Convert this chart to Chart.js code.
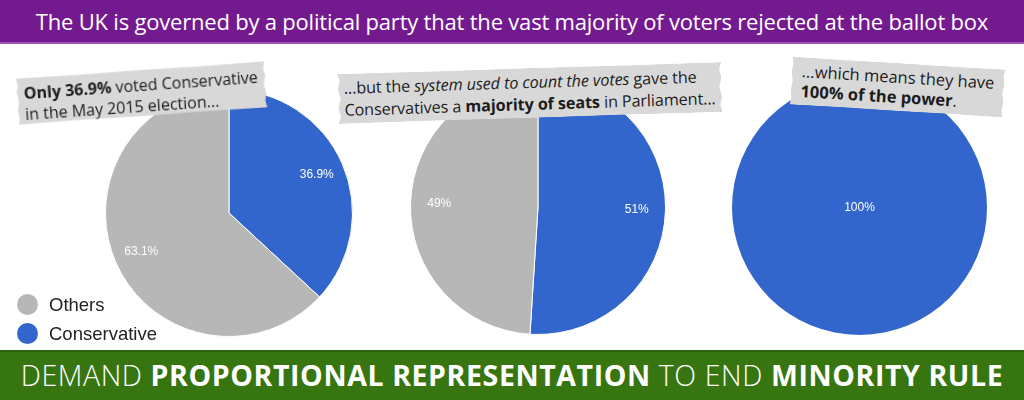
<!DOCTYPE html>
<html><head><meta charset="utf-8">
<script src="https://cdn.jsdelivr.net/npm/chart.js@4"></script>
<style>
html,body{margin:0;padding:0;width:1024px;height:400px;overflow:hidden;background:#fff;font-family:"Open Sans",sans-serif;}
#head{position:absolute;left:0;top:0;width:1024px;height:44px;background:#741a8f;border-bottom:2px solid #9a52b0;box-sizing:border-box;color:#fff;font-size:22px;line-height:42px;text-align:center;letter-spacing:-0.2px;}
#foot{position:absolute;left:0;top:350px;width:1024px;height:50px;background:#377510;border-top:2px solid #2d640b;box-sizing:border-box;color:#fff;font-size:28.5px;line-height:46px;text-align:center;letter-spacing:0.6px;}
#foot .l{font-weight:300}
#foot b{font-weight:700}
.pie{position:absolute;}
.call{position:absolute;background:#d8d8d8;color:#1c1c1c;font-size:16px;line-height:21px;padding:3px 7px;box-sizing:border-box;white-space:nowrap;z-index:5;
clip-path:polygon(0% 0%,25% 1%,50% 0%,75% 1%,100% 0%,99.4% 15%,100% 30%,99.3% 50%,100% 70%,99.4% 85%,100% 100%,75% 99%,50% 100%,25% 99%,0% 100%,0.6% 85%,0% 70%,0.7% 50%,0% 30%,0.6% 15%);}
#legend{position:absolute;left:10px;top:290px;font-family:"Liberation Sans",Arial,sans-serif;font-size:18.5px;color:#222;}
#legend div{height:29px;display:flex;align-items:center;}
#legend span.dot{display:inline-block;width:21px;height:21px;border-radius:50%;margin-left:7px;margin-right:11px;}
</style></head>
<body>
<div id="head">The UK is governed by a political party that the vast majority of voters rejected at the ballot box</div>
<div class="pie" style="left:105px;top:89px;width:248px;height:248px"><canvas id="c1"></canvas></div>
<div class="pie" style="left:410px;top:79px;width:256px;height:256px"><canvas id="c2"></canvas></div>
<div class="pie" style="left:732px;top:80px;width:255px;height:255px"><canvas id="c3"></canvas></div>
<div class="call" style="left:17px;top:70px;width:249px;height:46px;transform:rotate(-4deg);padding-top:5px"><b>Only 36.9%</b> voted Conservative<br>in the May 2015 election...</div>
<div class="call" style="left:338px;top:68px;width:384px;height:50px;transform:rotate(-1.8deg);font-size:16.2px;line-height:22px;padding-top:3px;padding-left:6px;letter-spacing:-0.1px"><span>...but the <i>system used to count the votes</i> gave the</span><br>Conservatives a <b>majority of seats</b> in Parliament...</div>
<div class="call" style="left:791px;top:63px;width:213px;height:48px;transform:rotate(3.5deg);font-size:16.5px;line-height:20px;padding-top:4px;padding-left:10px">...which means they have<br><b>100% of the power</b>.</div>
<div id="legend"></div>
<div id="foot"><span class="l">DEMAND </span><b>PROPORTIONAL REPRESENTATION</b><span class="l"> TO END </span><b>MINORITY RULE</b></div>
<script>
const categories = ["Conservative", "Others"];
const colors = ["#3366cc", "#b7b7b7"];
const votesShare = [36.9, 63.1];
const seatsShare = [51, 49];
const powerShare = [100, 0];
const legendOrder = ["Others", "Conservative"];

const labelPlugin = {
  id: 'pctLabels',
  afterDatasetsDraw(chart) {
    const ctx = chart.ctx;
    const ds = chart.data.datasets[0];
    const meta = chart.getDatasetMeta(0);
    ctx.save();
    ctx.fillStyle = '#ffffff';
    ctx.font = '12px "Liberation Sans", Arial, sans-serif';
    ctx.textAlign = 'center';
    ctx.textBaseline = 'middle';
    meta.data.forEach((arc, i) => {
      const v = ds.data[i];
      if (!v) return;
      const p = arc.getProps(['x','y','startAngle','endAngle','outerRadius'], true);
      let x = p.x, y = p.y;
      if (v < 100) {
        const a = (p.startAngle + p.endAngle) / 2;
        const r = p.outerRadius * 0.775;
        x += Math.cos(a) * r; y += Math.sin(a) * r;
      }
      ctx.fillText(v + '%', x, y);
    });
    ctx.restore();
  }
};

function makePie(id, values) {
  const single = values.filter(v => v > 0).length === 1;
  new Chart(document.getElementById(id), {
    type: 'pie',
    data: { labels: categories, datasets: [{ data: values, backgroundColor: colors, borderColor: '#ffffff', borderWidth: single ? 0 : 1 }] },
    options: {
      responsive: true, maintainAspectRatio: false, animation: false,
      layout: { padding: 0 },
      plugins: { legend: { display: false }, tooltip: { enabled: false } }
    },
    plugins: [labelPlugin]
  });
}
makePie('c1', votesShare);
makePie('c2', seatsShare);
makePie('c3', powerShare);

const lg = document.getElementById('legend');
legendOrder.forEach(name => {
  const d = document.createElement('div');
  const s = document.createElement('span');
  s.className = 'dot';
  s.style.background = colors[categories.indexOf(name)];
  d.appendChild(s);
  d.appendChild(document.createTextNode(name));
  lg.appendChild(d);
});
</script>
</body></html>
